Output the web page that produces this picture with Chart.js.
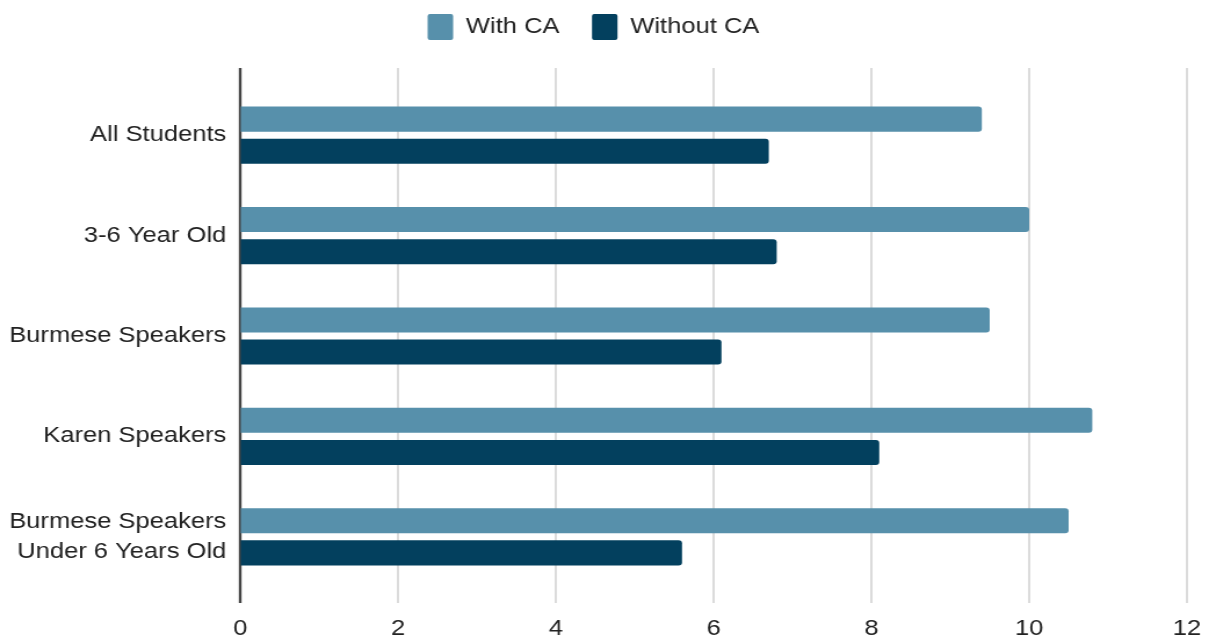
<!DOCTYPE html>
<html>
<head>
<meta charset="utf-8">
<script src="https://cdn.jsdelivr.net/npm/chart.js@4/dist/chart.umd.min.js"></script>
<style>
  html, body { margin: 0; padding: 0; background: #ffffff; overflow: hidden; }
</style>
</head>
<body>
<!-- the drawing surface is laid out narrower and widened on screen -->
<canvas id="chart" width="1042" height="641" style="display:block;width:1209px;height:641px"></canvas>
<script>
// Student groups shown on the vertical axis
const categories = [
  'All Students',
  '3-6 Year Old',
  'Burmese Speakers',
  'Karen Speakers',
  ['Burmese Speakers', 'Under 6 Years Old']
];

// Series
const seriesNames = ['With CA', 'Without CA'];
const withCA    = [9.4, 10.0, 9.5, 10.8, 10.5];
const withoutCA = [6.7, 6.8, 6.1, 8.1, 5.6];

// Value axis
const axisMin = 0;
const axisMax = 12;
const axisStep = 2;

const colors = ['#5790ab', '#03405e'];
const textColor = '#222222';
const fontFamily = '"Liberation Sans", Arial, Helvetica, sans-serif';

// Vertical grid lines reaching a little beyond the plotting band
const extendedGrid = {
  id: 'extendedGrid',
  beforeDatasetsDraw(chart) {
    const { ctx, chartArea, scales: { x } } = chart;
    ctx.save();
    x.ticks.forEach(t => {
      const px = Math.round(x.getPixelForValue(t.value));
      const zero = t.value === 0;
      ctx.beginPath();
      ctx.lineWidth = zero ? 2.4 : 1.6;
      ctx.strokeStyle = zero ? '#444444' : '#d2d2d2';
      ctx.moveTo(px, chartArea.top - 17);
      ctx.lineTo(px, chartArea.bottom + 16);
      ctx.stroke();
    });
    ctx.restore();
  }
};

// Reserve a fixed band for the legend above the plot
const legendBand = {
  id: 'legendBand',
  beforeInit(chart) {
    const fit = chart.legend.fit;
    chart.legend.fit = function () {
      fit.call(this);
      this.height = 99;
    };
  }
};

new Chart(document.getElementById('chart'), {
  type: 'bar',
  data: {
    labels: categories,
    datasets: [
      { label: seriesNames[0], data: withCA, backgroundColor: colors[0] },
      { label: seriesNames[1], data: withoutCA, backgroundColor: colors[1] }
    ]
  },
  options: {
    indexAxis: 'y',
    responsive: false,
    devicePixelRatio: 1,
    animation: false,
    layout: { padding: { top: -14, right: 19, bottom: 0, left: 0 } },
    datasets: {
      bar: {
        categoryPercentage: 0.64,
        barPercentage: 0.78,
        borderRadius: 3,
        borderSkipped: 'start'
      }
    },
    plugins: {
      tooltip: { enabled: false },
      legend: {
        position: 'top',
        align: 'center',
        labels: {
          boxWidth: 22,
          boxHeight: 26,
          padding: 28,
          color: textColor,
          useBorderRadius: true,
          borderRadius: 2,
          font: { family: fontFamily, size: 22 }
        }
      }
    },
    scales: {
      x: {
        type: 'linear',
        min: axisMin,
        max: axisMax,
        grid: {
          display: true,
          drawOnChartArea: false,
          drawTicks: true,
          tickLength: 27,
          color: 'rgba(0,0,0,0)'
        },
        border: { display: false },
        ticks: {
          stepSize: axisStep,
          padding: 4,
          color: textColor,
          font: { family: fontFamily, size: 22, lineHeight: 1.0 }
        },
        afterFit(scale) { scale.height = 54; }
      },
      y: {
        type: 'category',
        grid: { display: false, drawTicks: false },
        border: { display: false },
        ticks: {
          padding: 12,
          color: textColor,
          font: { family: fontFamily, size: 22, lineHeight: 1.36 }
        },
        afterFit(scale) { scale.width = 207; }
      }
    }
  },
  plugins: [extendedGrid, legendBand]
});
</script>
</body>
</html>
